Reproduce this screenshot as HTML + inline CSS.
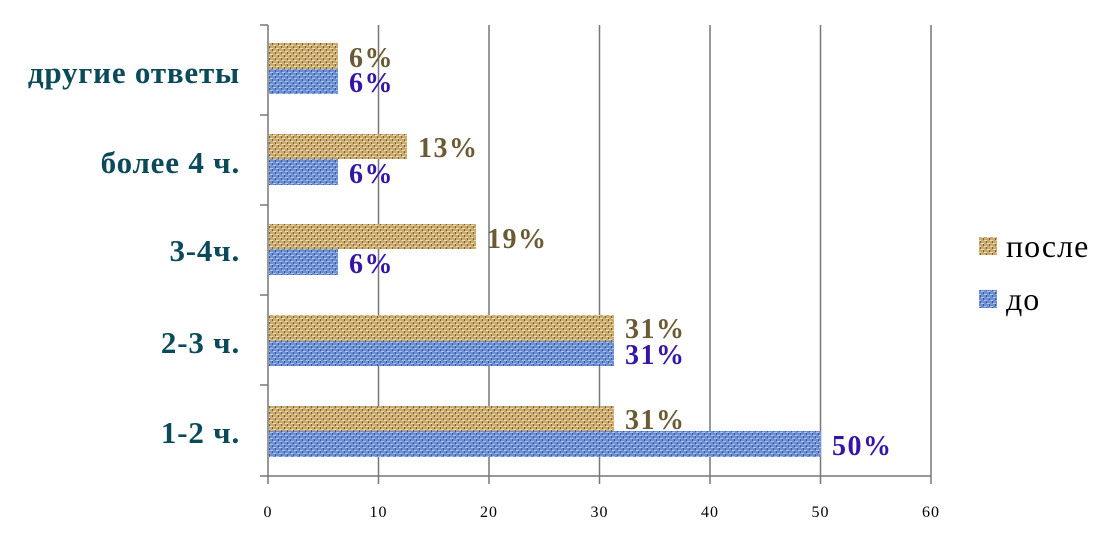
<!DOCTYPE html>
<html><head><meta charset="utf-8"><style>html,body{margin:0;padding:0;background:#fff;}svg{display:block}</style></head>
<body>
<svg width="1115" height="546" viewBox="0 0 1115 546" xmlns="http://www.w3.org/2000/svg">
<defs>
<pattern id="tan" width="6" height="6" patternUnits="userSpaceOnUse">
<rect width="6" height="6" fill="#c9ab72"/>
<rect x="0" y="0" width="3" height="1" fill="#f0dca8"/>
<rect x="3" y="3" width="3" height="1" fill="#f0dca8"/>
<rect x="2" y="1" width="1" height="2" fill="#7a5e2e"/>
<rect x="5" y="4" width="1" height="2" fill="#7a5e2e"/>
</pattern>
<pattern id="blue" width="6" height="6" patternUnits="userSpaceOnUse">
<rect width="6" height="6" fill="#6e90d2"/>
<rect x="0" y="0" width="3" height="1" fill="#a8c4f2"/>
<rect x="3" y="3" width="3" height="1" fill="#a8c4f2"/>
<rect x="2" y="1" width="1" height="2" fill="#34569a"/>
<rect x="5" y="4" width="1" height="2" fill="#34569a"/>
</pattern>
</defs>
<g stroke="#777" stroke-width="1.5">
<line x1="378.5" y1="25" x2="378.5" y2="476"/>
<line x1="489" y1="25" x2="489" y2="476"/>
<line x1="599.5" y1="25" x2="599.5" y2="476"/>
<line x1="710" y1="25" x2="710" y2="476"/>
<line x1="820.5" y1="25" x2="820.5" y2="476"/>
<line x1="931" y1="25" x2="931" y2="476"/>
<line x1="268" y1="25" x2="268" y2="484"/>
<line x1="260" y1="476" x2="931" y2="476"/>
<line x1="260" y1="25" x2="268" y2="25"/>
<line x1="260" y1="115" x2="268" y2="115"/>
<line x1="260" y1="205" x2="268" y2="205"/>
<line x1="260" y1="295" x2="268" y2="295"/>
<line x1="260" y1="385" x2="268" y2="385"/>
<line x1="378.5" y1="476" x2="378.5" y2="484"/>
<line x1="489" y1="476" x2="489" y2="484"/>
<line x1="599.5" y1="476" x2="599.5" y2="484"/>
<line x1="710" y1="476" x2="710" y2="484"/>
<line x1="820.5" y1="476" x2="820.5" y2="484"/>
<line x1="931" y1="476" x2="931" y2="484"/>
</g>
<g>
<rect x="269" y="43" width="69" height="26" fill="url(#tan)"/>
<rect x="269" y="69" width="69" height="25" fill="url(#blue)"/>
<rect x="269" y="134" width="138" height="25" fill="url(#tan)"/>
<rect x="269" y="159" width="69" height="26" fill="url(#blue)"/>
<rect x="269" y="224" width="207" height="25" fill="url(#tan)"/>
<rect x="269" y="249" width="69" height="26" fill="url(#blue)"/>
<rect x="269" y="315" width="345" height="26" fill="url(#tan)"/>
<rect x="269" y="341" width="345" height="25" fill="url(#blue)"/>
<rect x="269" y="406" width="345" height="25" fill="url(#tan)"/>
<rect x="269" y="431" width="552" height="26" fill="url(#blue)"/>
</g>
<g font-family="Liberation Serif, serif" font-weight="bold" font-size="28" letter-spacing="1.5">
<g fill="#6b5a33">
<text x="349" y="67">6%</text>
<text x="418" y="157">13%</text>
<text x="487" y="248">19%</text>
<text x="625" y="338">31%</text>
<text x="625" y="429">31%</text>
</g>
<g fill="#3515a8">
<text x="349" y="92">6%</text>
<text x="349" y="183">6%</text>
<text x="349" y="273">6%</text>
<text x="625" y="364">31%</text>
<text x="832" y="455">50%</text>
</g>
</g>
<g font-family="Liberation Serif, serif" font-weight="bold" font-size="31" letter-spacing="0.8" fill="#0b4a5a" text-anchor="end">
<text x="240" y="83">другие ответы</text>
<text x="240" y="173">более 4 ч.</text>
<text x="240" y="261">3-4ч.</text>
<text x="240" y="353">2-3 ч.</text>
<text x="240" y="443">1-2 ч.</text>
</g>
<g font-family="Liberation Serif, serif" font-size="16" letter-spacing="1" fill="#000" text-anchor="middle">
<text x="268" y="517">0</text>
<text x="378.5" y="517">10</text>
<text x="489" y="517">20</text>
<text x="599.5" y="517">30</text>
<text x="710" y="517">40</text>
<text x="820.5" y="517">50</text>
<text x="931" y="517">60</text>
</g>
<rect x="979" y="237" width="18" height="18" fill="url(#tan)"/>
<rect x="979" y="290" width="18" height="18" fill="url(#blue)"/>
<g font-family="Liberation Serif, serif" font-size="32" letter-spacing="1" fill="#000">
<text x="1006" y="257">после</text>
<text x="1006" y="310">до</text>
</g>
</svg>
</body></html>
